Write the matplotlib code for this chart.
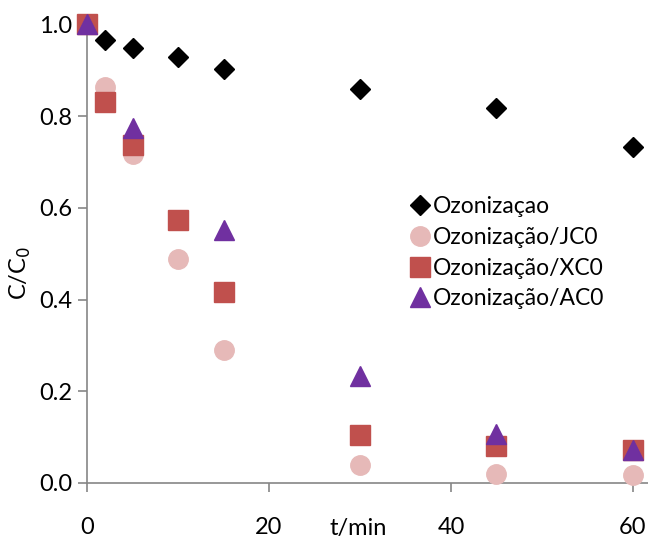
import matplotlib
matplotlib.use("Agg")
import matplotlib.pyplot as plt

plt.rcParams['font.family'] = ['Lato', 'DejaVu Sans']

# Data
t_ozo = [0, 2, 5, 10, 15, 30, 45, 60]
ozonizacao = [1.0, 0.966, 0.948, 0.928, 0.903, 0.858, 0.818, 0.733]

t_jc0 = [0, 2, 5, 10, 15, 30, 45, 60]
jc0 = [1.0, 0.863, 0.717, 0.488, 0.291, 0.040, 0.020, 0.017]

t_xc0 = [0, 2, 5, 10, 15, 30, 45, 60]
xc0 = [1.0, 0.831, 0.737, 0.573, 0.416, 0.105, 0.080, 0.071]

t_ac0 = [0, 5, 15, 30, 45, 60]
ac0 = [1.0, 0.773, 0.552, 0.233, 0.107, 0.073]

xticks = [0, 20, 40, 60]
yticks = [0.0, 0.2, 0.4, 0.6, 0.8, 1.0]

fig = plt.figure(figsize=(6.48, 5.46), dpi=100)
ax = fig.add_axes([0.1343, 0.1154, 0.8657, 0.8401])

ax.plot(t_ozo, ozonizacao, linestyle="none", marker="D", markersize=10.5,
        color="black", label="Ozonizaçao", clip_on=False, zorder=3)
ax.plot(t_jc0, jc0, linestyle="none", marker="o", markersize=14,
        color="#E6B9B8", label="Ozonização/JC0", clip_on=False, zorder=4)
ax.plot(t_xc0, xc0, linestyle="none", marker="s", markersize=14,
        color="#C0504D", label="Ozonização/XC0", clip_on=False, zorder=5)
ax.plot(t_ac0, ac0, linestyle="none", marker="^", markersize=14,
        color="#7030A0", label="Ozonização/AC0", clip_on=False, zorder=6)

ax.set_xlim(0, 61.65)
ax.set_ylim(0, 1.0)
ax.set_xticks(xticks)
ax.set_yticks(yticks)
ax.set_yticklabels([f"{v:.1f}" for v in yticks])

for s in ["top", "right"]:
    ax.spines[s].set_visible(False)
for s in ["left", "bottom"]:
    ax.spines[s].set_color("#868686")
    ax.spines[s].set_linewidth(1.2)

ax.tick_params(axis="both", colors="#868686", labelcolor="black",
               labelsize=17, length=6.5, width=1.2, direction="out")
ax.tick_params(axis="x", pad=18)
ax.tick_params(axis="y", pad=4)

fig.text(0.553, 0.012, "t/min", fontsize=17, ha="center", va="bottom")
fig.text(0.031, 0.50, "C/C$_0$", fontsize=17, rotation=90, ha="center", va="center")

ax.legend(loc="upper left", bbox_to_anchor=(0.555, 0.645), frameon=False,
          fontsize=16.5, handletextpad=0.0, handlelength=1.1, labelspacing=0.42,
          borderaxespad=0)

fig.savefig("out.png", dpi=100)
